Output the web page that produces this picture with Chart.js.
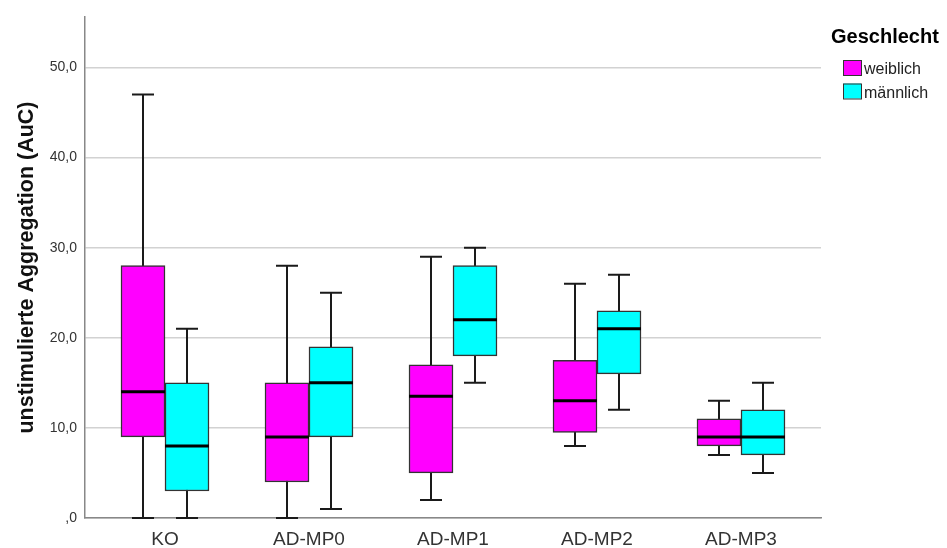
<!DOCTYPE html>
<html>
<head>
<meta charset="utf-8">
<script src="https://cdn.jsdelivr.net/npm/chart.js@4.4.1/dist/chart.umd.min.js"></script>
<style>
  html, body { margin: 0; padding: 0; background: #fff; }
  #wrap { width: 947px; height: 548px; }
</style>
</head>
<body>
<div id="wrap"><canvas id="chart" width="947" height="548"></canvas></div>
<script>
// --- data ---
const categories = ['KO', 'AD-MP0', 'AD-MP1', 'AD-MP2', 'AD-MP3'];
const groupLabels = ['weiblich', 'männlich'];
const groupColors = ['#ff00ff', '#00ffff'];

// five-number summaries: whisker min, Q1, median, Q3, whisker max
const femaleMin    = [0, 0, 2, 8, 7];
const femaleQ1     = [9, 4, 5, 9.5, 8];
const femaleMedian = [14, 9, 13.5, 13, 9];
const femaleQ3     = [28, 15, 17, 17.5, 11];
const femaleMax    = [47, 28, 29, 26, 13];

const maleMin    = [0, 1, 15, 12, 5];
const maleQ1     = [3, 9, 18, 16, 7];
const maleMedian = [8, 15, 22, 21, 9];
const maleQ3     = [15, 19, 28, 23, 12];
const maleMax    = [21, 25, 30, 27, 15];

const yTicks = [0, 10, 20, 30, 40, 50];

Chart.defaults.font.family = "'Liberation Sans', Arial, sans-serif";

const BOX_W = 44;          // px, width of one box
const HALF = 22 / 144;     // offset of each box from category centre (in category units)

function boxData(q1, q3, shift) {
  return categories.map((c, i) => ({ x: i + shift, y: [q1[i], q3[i]] }));
}

// whiskers are drawn under the boxes, medians on top
const boxplotParts = {
  id: 'boxplotParts',
  beforeDatasetsDraw(chart) {
    const ctx = chart.ctx;
    const y = chart.scales.y;
    chart.data.datasets.forEach((ds, di) => {
      const meta = chart.getDatasetMeta(di);
      meta.data.forEach((bar, i) => {
        const x = bar.x;
        const top = y.getPixelForValue(ds.stats.max[i]);
        const bot = y.getPixelForValue(ds.stats.min[i]);
        ctx.save();
        ctx.strokeStyle = '#1a1a1a';
        ctx.lineWidth = 2;
        ctx.beginPath();
        ctx.moveTo(x, top); ctx.lineTo(x, bot);
        ctx.moveTo(x - 11, top); ctx.lineTo(x + 11, top);
        ctx.moveTo(x - 11, bot); ctx.lineTo(x + 11, bot);
        ctx.stroke();
        ctx.restore();
      });
    });
  },
  afterDatasetsDraw(chart) {
    const ctx = chart.ctx;
    const y = chart.scales.y;
    chart.data.datasets.forEach((ds, di) => {
      const meta = chart.getDatasetMeta(di);
      meta.data.forEach((bar, i) => {
        const m = y.getPixelForValue(ds.stats.median[i]);
        ctx.save();
        ctx.strokeStyle = '#000';
        ctx.lineWidth = 3;
        ctx.beginPath();
        ctx.moveTo(bar.x - BOX_W / 2, m);
        ctx.lineTo(bar.x + BOX_W / 2, m);
        ctx.stroke();
        ctx.restore();
      });
    });
  }
};

// SPSS-like legend at the right
const sideLegend = {
  id: 'sideLegend',
  afterDraw(chart) {
    const ctx = chart.ctx;
    ctx.save();
    ctx.fillStyle = '#000';
    ctx.font = "bold 20px 'Liberation Sans', Arial, sans-serif";
    ctx.textBaseline = 'alphabetic';
    ctx.fillText('Geschlecht', 831, 43);
    ctx.font = "16px 'Liberation Sans', Arial, sans-serif";
    ctx.textBaseline = 'middle';
    chart.data.datasets.forEach((ds, i) => {
      const top = 60 + i * 23.5;
      ctx.fillStyle = ds.backgroundColor;
      ctx.fillRect(843, top, 18, 15);
      ctx.strokeStyle = '#333';
      ctx.lineWidth = 1;
      ctx.strokeRect(843.5, top + 0.5, 18, 15);
      ctx.fillStyle = '#222';
      ctx.fillText(ds.label, 864, top + 10);
    });
    ctx.restore();
  }
};

new Chart(document.getElementById('chart'), {
  type: 'bar',
  data: {
    datasets: [
      {
        label: groupLabels[0],
        data: boxData(femaleQ1, femaleQ3, -HALF),
        stats: { min: femaleMin, median: femaleMedian, max: femaleMax },
        backgroundColor: groupColors[0],
        borderColor: '#333',
        borderWidth: 1.5,
        borderSkipped: false,
        barThickness: BOX_W,
        grouped: false
      },
      {
        label: groupLabels[1],
        data: boxData(maleQ1, maleQ3, HALF),
        stats: { min: maleMin, median: maleMedian, max: maleMax },
        backgroundColor: groupColors[1],
        borderColor: '#333',
        borderWidth: 1.5,
        borderSkipped: false,
        barThickness: BOX_W,
        grouped: false
      }
    ]
  },
  options: {
    responsive: false,
    animation: false,
    devicePixelRatio: 1,
    layout: { padding: { left: 0, top: 17, right: 126, bottom: 0 } },
    plugins: {
      legend: { display: false },
      tooltip: { enabled: false }
    },
    scales: {
      x: {
        type: 'linear',
        offset: false,
        min: -0.5 - 8 / 144,
        max: 4.5 + 8 / 144,
        afterBuildTicks: axis => { axis.ticks = categories.map((c, i) => ({ value: i })); },
        afterFit: axis => { axis.height = 30; },
        ticks: {
          callback: v => categories[v],
          font: { size: 19 },
          color: '#333',
          padding: 10,
          maxRotation: 0,
          autoSkip: false
        },
        grid: { display: false, drawTicks: false },
        border: { display: true, color: '#888', width: 1.5 }
      },
      y: {
        min: 0,
        max: 55.6,
        afterBuildTicks: axis => { axis.ticks = yTicks.map(v => ({ value: v })); },
        afterFit: axis => { axis.width = 85; },
        ticks: {
          callback: v => (v === 0 ? ',0' : v.toFixed(1).replace('.', ',')),
          font: { size: 14 },
          color: '#333',
          padding: 8
        },
        grid: { color: '#d2d2d2', lineWidth: 1.5, drawTicks: false },
        border: { display: true, color: '#888', width: 1.5 },
        title: {
          display: true,
          text: 'unstimulierte Aggregation (AuC)',
          font: { size: 21.5, weight: 'bold' },
          color: '#111',
          padding: { top: 14, bottom: 0 }
        }
      }
    }
  },
  plugins: [boxplotParts, sideLegend]
});
</script>
</body>
</html>
